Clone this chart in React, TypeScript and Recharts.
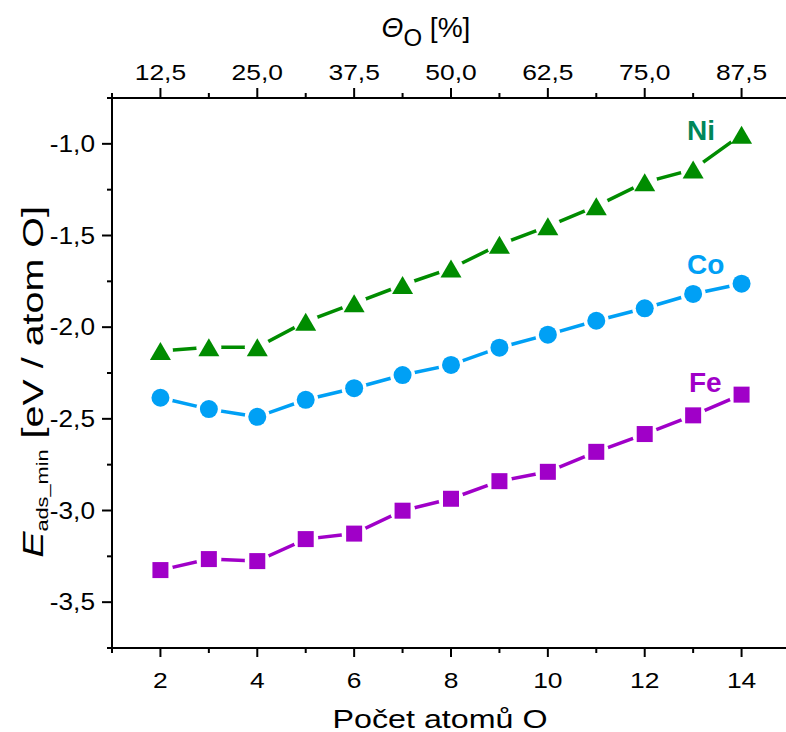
import React from "react";
import { LineChart, Line, XAxis, YAxis, Customized } from "recharts";

// počet atomů O v buňce
const atomCounts = [2, 3, 4, 5, 6, 7, 8, 9, 10, 11, 12, 13, 14];
const niEnergy = [-2.13, -2.11, -2.11, -1.97, -1.87, -1.77, -1.68, -1.55, -1.45, -1.34, -1.21, -1.14, -0.95];
const coEnergy = [-2.385, -2.447, -2.489, -2.396, -2.333, -2.261, -2.206, -2.112, -2.041, -1.965, -1.897, -1.819, -1.763];
const feEnergy = [-3.325, -3.265, -3.276, -3.156, -3.126, -3.001, -2.936, -2.84, -2.789, -2.68, -2.583, -2.481, -2.368];

const bottomTicks = [1, 2, 3, 4, 5, 6, 7, 8, 9, 10, 11, 12, 13, 14, 15];
const coverageLabels: Record<number, string> = {
  2: "12,5",
  4: "25,0",
  6: "37,5",
  8: "50,0",
  10: "62,5",
  12: "75,0",
  14: "87,5",
};
const energyTicks = [-3.75, -3.5, -3.25, -3.0, -2.75, -2.5, -2.25, -2.0, -1.75, -1.5, -1.25, -1.0, -0.75];

const COLORS = {
  ni: "#008C00",
  niLabel: "#00875A",
  co: "#00A0F5",
  fe: "#A000C8",
};

const FONT = "'Liberation Sans', Arial, Helvetica, sans-serif";
const STRETCH = 1.2;

const data = atomCounts.map((n, i) => ({
  n,
  ni: niEnergy[i],
  co: coEnergy[i],
  fe: feEnergy[i],
}));

const BottomTick = (props: any) => {
  const { x, y, payload } = props;
  const major = payload.value % 2 === 0;
  return (
    <g>
      <line x1={x} x2={x} y1={y} y2={y + (major ? 9 : 5)} stroke="#000" strokeWidth={2} />
      {major && (
        <text
          transform={`translate(${x},${y + 40}) scale(${STRETCH},1)`}
          textAnchor="middle"
          fontSize={22}
          fontFamily={FONT}
          fill="#000"
        >
          {payload.value}
        </text>
      )}
    </g>
  );
};

const TopTick = (props: any) => {
  const { x, y, payload } = props;
  const major = payload.value % 2 === 0;
  return (
    <g>
      <line x1={x} x2={x} y1={y} y2={y - (major ? 10 : 5)} stroke="#000" strokeWidth={2} />
      {major && coverageLabels[payload.value] && (
        <text
          transform={`translate(${x},${y - 18}) scale(${STRETCH},1)`}
          textAnchor="middle"
          fontSize={22}
          fontFamily={FONT}
          fill="#000"
        >
          {coverageLabels[payload.value]}
        </text>
      )}
    </g>
  );
};

const LeftTick = (props: any) => {
  const { x, y, payload } = props;
  const v = payload.value as number;
  const major = Math.abs(v * 2 - Math.round(v * 2)) < 1e-6;
  return (
    <g>
      <line x1={x} x2={x - (major ? 10 : 5)} y1={y} y2={y} stroke="#000" strokeWidth={2} />
      {major && (
        <text
          transform={`translate(${x - 17},${y + 8}) scale(1.14,1)`}
          textAnchor="end"
          fontSize={23}
          fontFamily={FONT}
          fill="#000"
        >
          {v.toFixed(1).replace(".", ",")}
        </text>
      )}
    </g>
  );
};

const makeDot = (shape: "triangle" | "circle" | "square", color: string) => (props: any) => {
  const { cx, cy, index } = props;
  if (cx == null || cy == null) return <g key={`${shape}-${index}`} />;
  let mark;
  if (shape === "triangle") {
    mark = (
      <polygon
        points={`${cx},${cy - 9} ${cx + 10.5},${cy + 9} ${cx - 10.5},${cy + 9}`}
        fill={color}
      />
    );
  } else if (shape === "circle") {
    mark = <circle cx={cx} cy={cy} r={9} fill={color} />;
  } else {
    mark = <rect x={cx - 8} y={cy - 8} width={16} height={16} fill={color} />;
  }
  return (
    <g key={`${shape}-${index}`}>
      <circle cx={cx} cy={cy} r={12.5} fill="#fff" />
      {mark}
    </g>
  );
};

const Annotations = () => (
  <g fontFamily={FONT}>
    <g transform={`translate(440,728) scale(1.24,1)`}>
      <text textAnchor="middle" fontSize={26} fill="#000">
        Počet atomů O
      </text>
    </g>
    <g transform={`translate(426,37) scale(1.04,1)`}>
      <text textAnchor="middle" fontSize={27} fill="#000">
        <tspan fontStyle="italic">Θ</tspan>
        <tspan fontSize={23} dy={9}>O</tspan>
        <tspan dy={-9}> [%]</tspan>
      </text>
    </g>
    <g transform={`translate(43,382) rotate(-90) scale(1.36,1)`}>
      <text textAnchor="middle" fontSize={29} fill="#000">
        <tspan fontStyle="italic">E</tspan>
        <tspan fontSize={16} dy={5}>ads_min</tspan>
        <tspan dy={-5}> [eV / atom O]</tspan>
      </text>
    </g>
    <text x={687} y={140} fontSize={28} fontWeight="bold" fill={COLORS.niLabel}>
      Ni
    </text>
    <text x={687} y={274} fontSize={28} fontWeight="bold" fill={COLORS.co}>
      Co
    </text>
    <text x={689} y={392} fontSize={28} fontWeight="bold" fill={COLORS.fe}>
      Fe
    </text>
  </g>
);

export default function App() {
  return (
    <div
      style={{
        position: "fixed",
        left: 0,
        top: 0,
        width: 786,
        height: 732,
        overflow: "hidden",
        background: "#fff",
      }}
    >
      <LineChart
        width={800}
        height={732}
        data={data}
        margin={{ top: 97, right: 10, bottom: 83, left: 111 }}
      >
        <XAxis
          xAxisId="bottom"
          dataKey="n"
          type="number"
          domain={[1, 15]}
          ticks={bottomTicks}
          interval={0}
          height={1}
          tickSize={0}
          tickMargin={0}
          tickLine={false}
          axisLine={{ stroke: "#000", strokeWidth: 2 }}
          tick={(p: any) => <BottomTick {...p} />}
          allowDataOverflow
        />
        <XAxis
          xAxisId="top"
          orientation="top"
          dataKey="n"
          type="number"
          domain={[1, 15]}
          ticks={bottomTicks}
          interval={0}
          height={1}
          tickSize={0}
          tickMargin={0}
          tickLine={false}
          axisLine={{ stroke: "#000", strokeWidth: 2 }}
          tick={(p: any) => <TopTick {...p} />}
          allowDataOverflow
        />
        <YAxis
          type="number"
          domain={[-3.75, -0.75]}
          ticks={energyTicks}
          interval={0}
          width={1}
          tickSize={0}
          tickMargin={0}
          tickLine={false}
          axisLine={{ stroke: "#000", strokeWidth: 2 }}
          tick={(p: any) => <LeftTick {...p} />}
          allowDataOverflow
        />
        <Line
          xAxisId="bottom"
          dataKey="ni"
          type="linear"
          stroke={COLORS.ni}
          strokeWidth={3.5}
          dot={makeDot("triangle", COLORS.ni)}
          activeDot={false}
          isAnimationActive={false}
        />
        <Line
          xAxisId="bottom"
          dataKey="co"
          type="linear"
          stroke={COLORS.co}
          strokeWidth={3.5}
          dot={makeDot("circle", COLORS.co)}
          activeDot={false}
          isAnimationActive={false}
        />
        <Line
          xAxisId="bottom"
          dataKey="fe"
          type="linear"
          stroke={COLORS.fe}
          strokeWidth={3.5}
          dot={makeDot("square", COLORS.fe)}
          activeDot={false}
          isAnimationActive={false}
        />
        <Customized component={Annotations} />
      </LineChart>
    </div>
  );
}
